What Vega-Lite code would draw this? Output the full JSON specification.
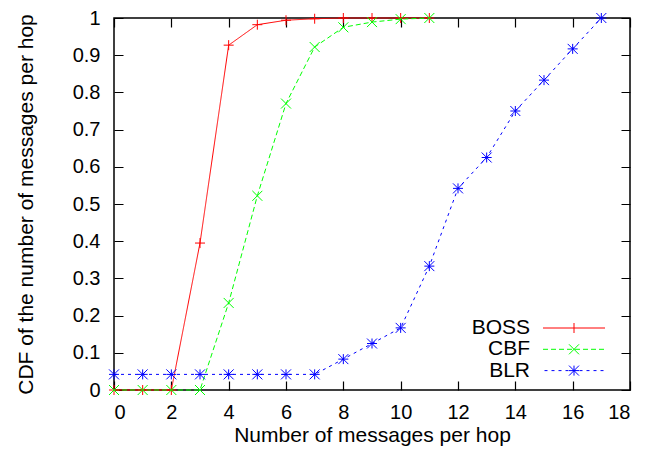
{
  "$schema": "https://vega.github.io/schema/vega-lite/v6.json",
  "width": 516,
  "height": 372,
  "autosize": {"type": "none"},
  "padding": {"left": 114, "top": 18, "right": 30, "bottom": 68},
  "background": "white",
  "config": {
    "view": {"stroke": "black", "strokeWidth": 1.5},
    "font": "Liberation Sans",
    "axis": {
      "grid": false,
      "domain": false,
      "labelFont": "Liberation Sans",
      "labelFontSize": 20,
      "labelColor": "black",
      "titleFont": "Liberation Sans",
      "titleFontSize": 21,
      "titleFontWeight": "normal",
      "titleColor": "black"
    }
  },
  "data": {
    "values": [
      {"series": "BOSS", "x": 0, "y": 0},
      {"series": "BOSS", "x": 1, "y": 0},
      {"series": "BOSS", "x": 2, "y": 0},
      {"series": "BOSS", "x": 3, "y": 0.395},
      {"series": "BOSS", "x": 4, "y": 0.927},
      {"series": "BOSS", "x": 5, "y": 0.982},
      {"series": "BOSS", "x": 6, "y": 0.994},
      {"series": "BOSS", "x": 7, "y": 0.998},
      {"series": "BOSS", "x": 8, "y": 1},
      {"series": "BOSS", "x": 9, "y": 1},
      {"series": "BOSS", "x": 10, "y": 1},
      {"series": "BOSS", "x": 11, "y": 1},
      {"series": "CBF", "x": 0, "y": 0},
      {"series": "CBF", "x": 1, "y": 0},
      {"series": "CBF", "x": 2, "y": 0},
      {"series": "CBF", "x": 3, "y": 0},
      {"series": "CBF", "x": 4, "y": 0.234},
      {"series": "CBF", "x": 5, "y": 0.522},
      {"series": "CBF", "x": 6, "y": 0.77},
      {"series": "CBF", "x": 7, "y": 0.922},
      {"series": "CBF", "x": 8, "y": 0.975},
      {"series": "CBF", "x": 9, "y": 0.989},
      {"series": "CBF", "x": 10, "y": 0.997},
      {"series": "CBF", "x": 11, "y": 1},
      {"series": "BLR", "x": 0, "y": 0.042},
      {"series": "BLR", "x": 1, "y": 0.042},
      {"series": "BLR", "x": 2, "y": 0.042},
      {"series": "BLR", "x": 3, "y": 0.042},
      {"series": "BLR", "x": 4, "y": 0.042},
      {"series": "BLR", "x": 5, "y": 0.042},
      {"series": "BLR", "x": 6, "y": 0.042},
      {"series": "BLR", "x": 7, "y": 0.042},
      {"series": "BLR", "x": 8, "y": 0.083},
      {"series": "BLR", "x": 9, "y": 0.125},
      {"series": "BLR", "x": 10, "y": 0.167},
      {"series": "BLR", "x": 11, "y": 0.333},
      {"series": "BLR", "x": 12, "y": 0.542},
      {"series": "BLR", "x": 13, "y": 0.625},
      {"series": "BLR", "x": 14, "y": 0.75},
      {"series": "BLR", "x": 15, "y": 0.833},
      {"series": "BLR", "x": 16, "y": 0.917},
      {"series": "BLR", "x": 17, "y": 1}
    ]
  },
  "layer": [
    {
      "mark": {"type": "line", "strokeWidth": 1},
      "encoding": {
        "x": {
          "field": "x", "type": "quantitative",
          "scale": {"domain": [0, 18], "nice": false, "zero": false},
          "axis": {
            "orient": "bottom",
            "values": [0, 2, 4, 6, 8, 10, 12, 14, 16, 18],
            "format": "d",
            "ticks": false,
            "grid": true, "gridColor": "black", "gridWidth": 1.2, "gridOpacity": 1, "gridDash": [9, 354, 9],
            "labelPadding": 28,
            "labelBaseline": "alphabetic",
            "title": "Number of messages per hop",
            "titleX": 258,
            "titleY": 51,
            "titleBaseline": "alphabetic"
          }
        },
        "y": {
          "field": "y", "type": "quantitative",
          "scale": {"domain": [0, 1], "nice": false},
          "axis": {
            "orient": "left",
            "values": [0, 0.1, 0.2, 0.3, 0.4, 0.5, 0.6, 0.7, 0.8, 0.9, 1],
            "format": "~g",
            "ticks": false,
            "grid": true, "gridColor": "black", "gridWidth": 1.2, "gridOpacity": 1, "gridDash": [9, 498, 9],
            "labelPadding": 14,
            "title": "CDF of the number of messages per hop",
            "titleX": -87.5,
            "titleY": 186,
            "titleAngle": -90,
            "titleBaseline": "middle",
            "titleAlign": "center"
          }
        },
        "color": {
          "field": "series", "type": "nominal",
          "scale": {"domain": ["BOSS", "CBF", "BLR"], "range": ["#ff0000", "#00ff00", "#0000ff"]}
        },
        "strokeDash": {
          "field": "series", "type": "nominal",
          "scale": {"domain": ["BLR", "BOSS", "CBF"], "range": [[3, 4], [1, 0], [5, 3]]},
          "legend": null
        }
      }
    },
    {
      "transform": [{"filter": "datum.series === 'BOSS'"}],
      "mark": {"type": "point", "filled": false, "size": 100, "strokeWidth": 1, "opacity": 1, "color": "#ff0000", "shape": "M-1,0H1M0,-1V1"},
      "encoding": {
        "x": {
          "field": "x", "type": "quantitative",
          "axis": {"orient": "top", "values": [0, 2, 4, 6, 8, 10, 12, 14, 16, 18], "labels": false, "title": null, "ticks": false}
        },
        "y": {
          "field": "y", "type": "quantitative",
          "axis": {"orient": "right", "values": [0, 0.1, 0.2, 0.3, 0.4, 0.5, 0.6, 0.7, 0.8, 0.9, 1], "labels": false, "title": null, "ticks": false}
        }
      }
    },
    {
      "transform": [{"filter": "datum.series === 'CBF'"}],
      "mark": {"type": "point", "filled": false, "size": 100, "strokeWidth": 1, "opacity": 1, "color": "#00ff00", "shape": "M-1,-1L1,1M-1,1L1,-1"},
      "encoding": {
        "x": {"field": "x", "type": "quantitative", "axis": null},
        "y": {"field": "y", "type": "quantitative", "axis": null}
      }
    },
    {
      "transform": [{"filter": "datum.series === 'BLR'"}],
      "mark": {"type": "point", "filled": false, "size": 100, "strokeWidth": 1, "opacity": 1, "color": "#0000ff", "shape": "M-1,0H1M0,-1V1M-1,-1L1,1M-1,1L1,-1"},
      "encoding": {
        "x": {"field": "x", "type": "quantitative", "axis": null},
        "y": {"field": "y", "type": "quantitative", "axis": null}
      }
    },
    {
      "mark": {"type": "point", "filled": false, "strokeWidth": 1, "opacity": 0},
      "encoding": {
        "x": {"field": "x", "type": "quantitative", "axis": null},
        "y": {"field": "y", "type": "quantitative", "axis": null},
        "color": {
          "field": "series", "type": "nominal",
          "legend": {
            "orient": "none", "legendX": 449.5, "legendY": 299.5, "direction": "vertical",
            "values": ["BOSS", "CBF", "BLR"],
            "title": null, "padding": 0, "rowPadding": -0.7,
            "symbolSize": 400, "symbolStrokeWidth": 1, "symbolOpacity": 1, "symbolFillColor": "transparent",
            "labelFont": "Liberation Sans", "labelFontSize": 21, "labelColor": "black",
            "labelAlign": "right", "labelOffset": -54.5
          }
        },
        "shape": {
          "field": "series", "type": "nominal",
          "scale": {
            "domain": ["BOSS", "CBF", "BLR"],
            "range": [
              "M-3.1,0H3.1M0,-0.5V0.5",
              "M-3.1,0H-2.6M-2.3,0H-1.8M-1.5,0H-1.0M-0.7,0H-0.2M0.1,0H0.6M0.9,0H1.4M1.7,0H2.2M2.5,0H3.0M-0.5,-0.5L0.5,0.5M-0.5,0.5L0.5,-0.5",
              "M-2.95,0H-2.65M-2.25,0H-1.95M-1.55,0H-1.25M-0.85,0H-0.55M-0.15,0H0.15M0.55,0H0.85M1.25,0H1.55M1.95,0H2.25M2.65,0H2.95M-0.5,0H0.5M0,-0.5V0.5M-0.5,-0.5L0.5,0.5M-0.5,0.5L0.5,-0.5"
            ]
          },
          "legend": {
            "orient": "none", "legendX": 449.5, "legendY": 299.5, "direction": "vertical",
            "values": ["BOSS", "CBF", "BLR"],
            "title": null, "padding": 0, "rowPadding": -0.7,
            "symbolSize": 400, "symbolStrokeWidth": 1, "symbolOpacity": 1, "symbolFillColor": "transparent",
            "labelFont": "Liberation Sans", "labelFontSize": 21, "labelColor": "black",
            "labelAlign": "right", "labelOffset": -54.5
          }
        }
      }
    }
  ]
}
